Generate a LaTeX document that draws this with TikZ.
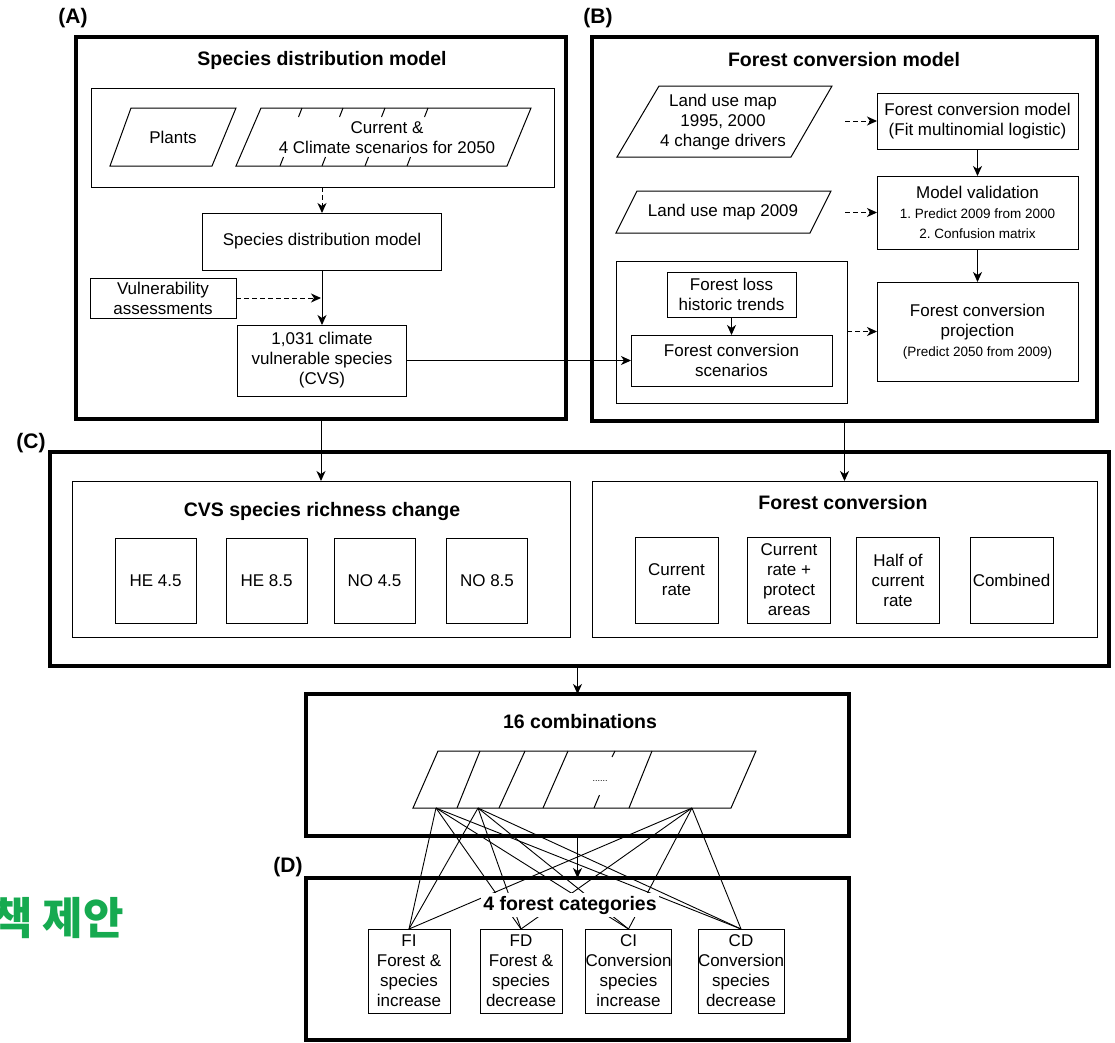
\documentclass[tikz,border=0pt]{standalone}
\usepackage{fontspec}
\setmainfont{Liberation Sans}
\newfontfamily\krfont{Noto Sans CJK KR}
\usetikzlibrary{arrows.meta}
\definecolor{kgreen}{RGB}{22,170,80}
\frenchspacing
\begin{document}
\begin{tikzpicture}[x=1pt,y=-1pt,
  outer/.style={draw, line width=3.5pt, inner sep=0pt, outer sep=0pt},
  box/.style={draw, line width=1pt, inner sep=0pt, outer sep=0pt, align=center, font=\fontsize{17}{20}\selectfont},
  txt/.style={inner sep=0pt, align=center, font=\fontsize{17}{20}\selectfont},
  ttl/.style={inner sep=0pt, font=\bfseries\fontsize{19.5}{22}\selectfont},
  lbl/.style={inner sep=0pt, font=\bfseries\fontsize{21}{22}\selectfont},
  para/.style={draw, line width=1pt, line join=miter},
  arr/.style={-{Stealth[length=10pt,width=9pt,inset=3pt]}, line width=1pt},
  darr/.style={arr, dash pattern=on 4.5pt off 3.5pt},
  web/.style={line width=0.9pt}
]
\useasboundingbox (0,0) rectangle (1115,1042);

% ---------------- Panel A ----------------
\node[lbl] (labA) at (73,18) {(A)};
\node[outer, minimum width=490pt, minimum height=382pt] (A) at (321,228) {};
\node[ttl] (tA) at (322,60) {Species distribution model};
\node[box, minimum width=463pt, minimum height=99pt] (inA) at (322.5,137.5) {};
\draw[para] (131,108) -- (236,108) -- (212,166) -- (110,166) -- cycle;
\node[txt] (plants) at (173,137) {Plants};
\draw[para] (261,108) -- (531,108) -- (507,166) -- (236,166) -- cycle;
\foreach \x in {302,343,385,428} \draw[line width=1pt] (\x,108) -- (\x-3.5,117);
\foreach \x in {280,322,365,407} \draw[line width=1pt] (\x,166) -- (\x+3.5,157);
\node[txt] (clim) at (387,138) {Current \&\\4 Climate scenarios for 2050};
\node[box, minimum width=239pt, minimum height=57pt] (SDM) at (322,241.5) {Species distribution model};
\node[box, minimum width=146pt, minimum height=40pt] (Vul) at (163,298) {Vulnerability\\assessments};
\node[box, minimum width=169pt, minimum height=71pt] (CVS) at (322,360.5) {1,031 climate\\vulnerable species\\(CVS)};
\coordinate (vj) at (321,298);
\draw[darr] (SDM.north |- inA.south) -- (SDM.north);
\draw[arr] (SDM.south) -- (CVS.north);
\draw[darr] (Vul.east) -- (vj);

% ---------------- Panel B ----------------
\node[lbl] (labB) at (598,18) {(B)};
\node[outer, minimum width=505pt, minimum height=384pt] (B) at (844.5,229) {};
\node[ttl] (tB) at (844,60) {Forest conversion model};
\draw[para] (659,86) -- (832,86) -- (791,157) -- (617,157) -- cycle;
\node[txt] (lum) at (723,122) {Land use map\\1995, 2000\\4 change drivers};
\node[box, minimum width=201pt, minimum height=56pt] (FCM) at (977.5,121) {Forest conversion model\\(Fit multinomial logistic)};
\node[box, minimum width=201pt, minimum height=73pt] (MV) at (977.5,212.5) {Model validation\\{\fontsize{13.5}{20.5}\selectfont 1. Predict 2009 from 2000}\\{\fontsize{13.5}{20.5}\selectfont 2. Confusion matrix}};
\draw[para] (637,191) -- (831,191) -- (810,233) -- (616,233) -- cycle;
\node[txt] (lum9) at (723,212) {Land use map 2009};
\node[box, minimum width=231pt, minimum height=142pt] (grp) at (731.5,332) {};
\node[box, minimum width=129pt, minimum height=45pt] (FL) at (731.5,294.5) {Forest loss\\historic trends};
\node[box, minimum width=201pt, minimum height=51pt] (FCS) at (731.5,360.5) {Forest conversion\\scenarios};
\node[box, minimum width=201pt, minimum height=99pt] (FCP) at (977.5,331.5) {Forest conversion\\projection\\{\fontsize{13.5}{20.5}\selectfont (Predict 2050 from 2009)}};
\coordinate (d1) at (845,121);
\coordinate (d2) at (845,212.5);
\draw[darr] (d1) -- (FCM.west);
\draw[darr] (d2) -- (MV.west);
\draw[darr] (grp.east |- FCP.west) -- (FCP.west);
\draw[arr] (FCM.south) -- (MV.north);
\draw[arr] (MV.south) -- (FCP.north);
\draw[arr] (FL.south) -- (FCS.north);
\draw[arr] (CVS.east) -- (FCS.west);

% ---------------- Panel C ----------------
\node[lbl] (labC) at (31,443) {(C)};
\node[outer, minimum width=1059pt, minimum height=214pt] (C) at (579.5,559) {};
\node[box, minimum width=498pt, minimum height=156pt] (CL) at (321,559) {};
\node[box, minimum width=505pt, minimum height=156pt] (CR) at (844.5,559) {};
\node[ttl] (tCL) at (322,511) {CVS species richness change};
\node[ttl] (tCR) at (843,503) {Forest conversion};
\node[box, minimum width=81pt, minimum height=85pt] (he45) at (155.5,581) {HE 4.5};
\node[box, minimum width=81pt, minimum height=85pt] (he85) at (266.5,581) {HE 8.5};
\node[box, minimum width=81pt, minimum height=85pt] (no45) at (374.5,581) {NO 4.5};
\node[box, minimum width=81pt, minimum height=85pt] (no85) at (487,581) {NO 8.5};
\node[box, minimum width=83pt, minimum height=86pt] (cr) at (676.5,580) {Current\\rate};
\node[box, minimum width=83pt, minimum height=86pt] (crp) at (789,580) {Current\\rate +\\protect\\areas};
\node[box, minimum width=83pt, minimum height=86pt] (half) at (898,580) {Half of\\current\\rate};
\node[box, minimum width=83pt, minimum height=86pt] (comb) at (1011.5,580) {Combined};
\draw[arr] (A.south) -- (A.south |- CL.north);
\draw[arr] (B.south) -- (B.south |- CR.north);

% ---------------- 16 combinations ----------------
\node[outer, minimum width=543pt, minimum height=142pt] (K) at (577.5,765) {};
\node[ttl] (tK) at (580,722) {16 combinations};
\draw[arr] (K.north |- C.south) -- (K.north);
\draw[para] (438,751) -- (756,751) -- (731,808) -- (413,808) -- cycle;
\draw[line width=1pt] (480,751) -- (457,808) (525,751) -- (499,808) (568,751) -- (543,808) (652,751) -- (629,808);
\draw[line width=1pt] (615,751) -- (612,757) (594,808) -- (599.5,795);
\node[inner sep=0pt, font=\fontsize{9}{9}\selectfont] (dots) at (600,781) {......};
\coordinate (P1) at (436,808);
\coordinate (P2) at (478,808);
\coordinate (P3) at (692,808);

% ---------------- Panel D ----------------
\node[lbl] (labD) at (288,867) {(D)};
\node[outer, minimum width=543pt, minimum height=162pt] (D) at (577.5,959) {};
\draw[arr] (K.south) -- (D.north);
\node[box, minimum width=82pt, minimum height=84pt] (FI) at (409,971) {FI\\Forest \&\\species\\increase};
\node[box, minimum width=82pt, minimum height=84pt] (FD) at (521,971) {FD\\Forest \&\\species\\decrease};
\node[box, minimum width=82pt, minimum height=84pt] (CI) at (628.5,971) {CI\\Conversion\\species\\increase};
\node[box, minimum width=82pt, minimum height=84pt] (CD) at (741,971) {CD\\Conversion\\species\\decrease};
\foreach \s in {P1,P2,P3}
  \foreach \t in {FI,FD,CI,CD}
    \draw[web] (\s) -- (\t.north);
\node[ttl, fill=white, inner xsep=2pt, inner ysep=3pt] (tD) at (570,905) {4 forest categories};

% ---------------- green text ----------------
\node[inner sep=0pt, anchor=east, text=kgreen, font=\krfont\bfseries\fontsize{44}{44}\selectfont] (kr) at (124,918) {책 제안};
\end{tikzpicture}
\end{document}
